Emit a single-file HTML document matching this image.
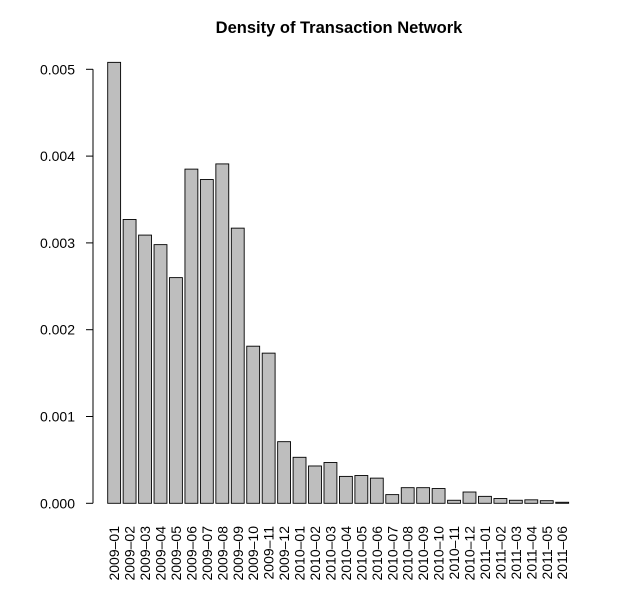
<!DOCTYPE html>
<html><head><meta charset="utf-8"><style>body{margin:0;background:#fff}svg{display:block;font-family:"Liberation Sans",Arial,sans-serif}</style></head>
<body>
<svg id="chart" width="625" height="600">
<text x="339" y="33" text-anchor="middle" font-weight="bold" font-size="16.5">Density of Transaction Network</text>
<g id="yaxis"></g>
<g id="bars"></g>
<g id="xlabels"></g>
</svg>
<script>
const categories = ["2009-01","2009-02","2009-03","2009-04","2009-05","2009-06","2009-07","2009-08","2009-09","2009-10","2009-11","2009-12","2010-01","2010-02","2010-03","2010-04","2010-05","2010-06","2010-07","2010-08","2010-09","2010-10","2010-11","2010-12","2011-01","2011-02","2011-03","2011-04","2011-05","2011-06"];
const densityValues = [0.00508,0.00327,0.00309,0.00298,0.00260,0.00385,0.00373,0.00391,0.00317,0.00181,0.00173,0.00071,0.00053,0.00043,0.00047,0.00031,0.00032,0.00029,0.00010,0.00018,0.00018,0.00017,0.000035,0.00013,0.00008,0.000055,0.000035,0.00004,0.00003,0.000012];
const yTicks = [0,0.001,0.002,0.003,0.004,0.005];
const yTickLabels = ["0.000","0.001","0.002","0.003","0.004","0.005"];

const NS="http://www.w3.org/2000/svg";
const y0=503.3, pxPer=86.8/0.001;
const yScale=v=>y0-v*pxPer;
const step=15.45, barW=12.9, x0=107.7;
const xScale=i=>x0+i*step;
function mk(tag,attrs,parent){const e=document.createElementNS(NS,tag);for(const k in attrs)e.setAttribute(k,attrs[k]);parent.appendChild(e);return e;}
const ya=document.getElementById('yaxis');
const axl=mk('line',{x1:93,x2:93,y1:yScale(yTicks[0]),y2:yScale(yTicks[yTicks.length-1]),stroke:'#000'},ya);


yTicks.forEach((t,i)=>{
  const y=yScale(t);
  const tk=mk('line',{x1:86,x2:93,y1:y,y2:y,stroke:'#000'},ya);
  
  
  const tx=mk('text',{x:75,y:y+5,'text-anchor':'end','font-size':14},ya);
  tx.textContent=yTickLabels[i];
  
  
});
const bg=document.getElementById('bars'), xl=document.getElementById('xlabels');
categories.forEach((c,i)=>{
  const x=xScale(i), top=yScale(densityValues[i]);
  const r=mk('rect',{x:x,y:top,width:barW,height:y0-top,fill:'#bebebe',stroke:'#000','stroke-width':0.9},bg);
  
  
  const cx=x+barW/2+5;
  const t=mk('text',{x:cx,y:526,'text-anchor':'end','font-size':14,transform:`rotate(-90 ${cx} 526)`},xl);
  t.textContent=c.replace('-','\u2013');
  
  
});
</script>
</body></html>
